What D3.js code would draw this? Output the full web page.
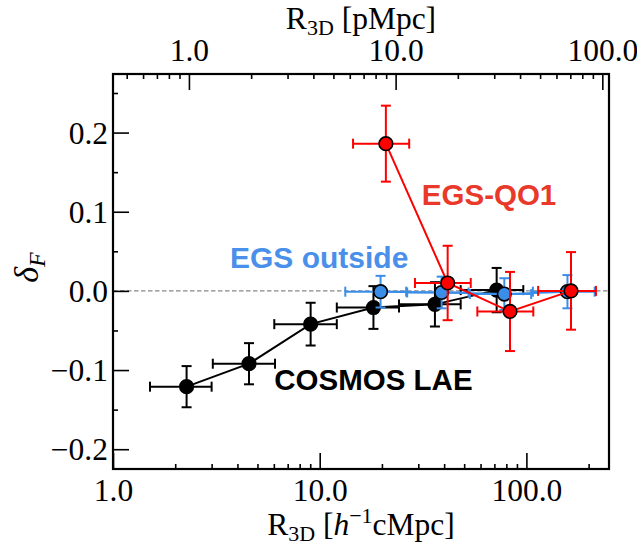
<!DOCTYPE html>
<html>
<head>
<meta charset="utf-8">
<script src="https://cdn.jsdelivr.net/npm/d3@7"></script>
<style>
  body { margin: 0; background: #fff; }
  svg { display: block; }
</style>
</head>
<body>
<svg id="chart" width="637" height="549"></svg>
<script>
// COSMOS LAE
var cosmosR     = [2.27, 4.55, 9.04, 18.2, 36.1, 71.8];
var cosmosRLo   = [1.51, 3.04, 6.03, 12.1, 24.2, 48.1];
var cosmosRHi   = [3.0, 6.08, 12.1, 24.2, 48.1, 96.6];
var cosmosDelta = [-0.121, -0.092, -0.042, -0.021, -0.017, 0.001];
var cosmosErr   = [0.026, 0.026, 0.027, 0.027, 0.028, 0.028];

// EGS outside
var outR     = [19.7, 38.9, 78.2, 158];
var outRLo   = [13.3, 26.5, 53.3, 107.5];
var outRHi   = [26.2, 52.5, 105.5, 214];
var outDelta = [-0.001, -0.002, -0.004, -0.001];
var outErr   = [0.02, 0.02, 0.02, 0.021];

// EGS-QO1
var qoR     = [20.9, 41.6, 83.3, 164.4];
var qoRLo   = [14.5, 28.9, 57.9, 114];
var qoRHi   = [27.1, 53.8, 108, 217];
var qoDelta = [0.186, 0.01, -0.026, 0.0];
var qoErr   = [0.048, 0.047, 0.05, 0.049];

// axes
var xMajor = [1, 10, 100];
var xMinor = [2, 3, 4, 5, 6, 7, 8, 9, 20, 30, 40, 50, 60, 70, 80, 90, 200];
var topMajor = [1, 10, 100];
var topMinor = [0.5, 0.6, 0.7, 0.8, 0.9, 2, 3, 4, 5, 6, 7, 8, 9, 20, 30, 40, 50, 60, 70, 80, 90];
var yMajor = [-0.2, -0.1, 0.0, 0.1, 0.2];
var yMinor = [-0.15, -0.05, 0.05, 0.15, 0.25];
var cMpcPerPMpc = 2.33;

var svg = d3.select("#chart");

var margins = { top: 74, bottom: 80, left: 113, right: 28 };
var width = 637 - margins.left - margins.right;
var height = 549 - margins.top - margins.bottom;

var x = d3.scaleLog().domain([1, 251]).range([0, width]);
var xTop = d3.scaleLog().domain([1 / cMpcPerPMpc, 251 / cMpcPerPMpc]).range([0, width]);
var y = d3.scaleLinear().domain([-0.225, 0.274]).range([height, 0]);

var serif = "'Liberation Serif', 'DejaVu Serif', serif";
var sans = "'Liberation Sans', Arial, sans-serif";
var fmt = d3.format(".1f");

var g = svg.append("g")
    .attr("transform", "translate(" + margins.left + "," + margins.top + ")");

// zero line
g.append("line")
    .attr("x1", 0).attr("x2", width)
    .attr("y1", y(0)).attr("y2", y(0))
    .attr("stroke", "#888")
    .attr("stroke-width", 1.2)
    .attr("stroke-dasharray", "4.5,2.5");

function series(R, RLo, RHi, D, E, color, fill, edge) {
    var pts = R.map(function(r, i) {
        return { r: r, lo: RLo[i], hi: RHi[i], d: D[i], e: E[i] };
    });
    var s = g.append("g");
    var cap = 5;

    // connecting line
    s.append("path")
        .datum(pts)
        .attr("fill", "none")
        .attr("stroke", color)
        .attr("stroke-width", 2)
        .attr("d", d3.line().x(d => x(d.r)).y(d => y(d.d)));

    var eb = s.selectAll(".eb").data(pts).enter().append("g")
        .attr("stroke", color)
        .attr("stroke-width", 2);
    // horizontal bars
    eb.append("line")
        .attr("x1", d => x(d.lo)).attr("x2", d => x(d.hi))
        .attr("y1", d => y(d.d)).attr("y2", d => y(d.d));
    eb.append("line")
        .attr("x1", d => x(d.lo)).attr("x2", d => x(d.lo))
        .attr("y1", d => y(d.d) - cap).attr("y2", d => y(d.d) + cap);
    eb.append("line")
        .attr("x1", d => x(d.hi)).attr("x2", d => x(d.hi))
        .attr("y1", d => y(d.d) - cap).attr("y2", d => y(d.d) + cap);
    // vertical bars
    eb.append("line")
        .attr("x1", d => x(d.r)).attr("x2", d => x(d.r))
        .attr("y1", d => y(d.d + d.e)).attr("y2", d => y(d.d - d.e));
    eb.append("line")
        .attr("x1", d => x(d.r) - cap).attr("x2", d => x(d.r) + cap)
        .attr("y1", d => y(d.d + d.e)).attr("y2", d => y(d.d + d.e));
    eb.append("line")
        .attr("x1", d => x(d.r) - cap).attr("x2", d => x(d.r) + cap)
        .attr("y1", d => y(d.d - d.e)).attr("y2", d => y(d.d - d.e));

    s.selectAll("circle").data(pts).enter().append("circle")
        .attr("cx", d => x(d.r))
        .attr("cy", d => y(d.d))
        .attr("r", 6.8)
        .attr("fill", fill)
        .attr("stroke", edge)
        .attr("stroke-width", 1.6);
}

series(cosmosR, cosmosRLo, cosmosRHi, cosmosDelta, cosmosErr, "#000", "#000", "#000");
series(outR, outRLo, outRHi, outDelta, outErr, "#3a8ee8", "#3a8ee8", "#000");
series(qoR, qoRLo, qoRHi, qoDelta, qoErr, "#ff0000", "#ff0000", "#000");

// annotations
g.append("text")
    .attr("x", x(31.2)).attr("y", y(0.1086))
    .attr("fill", "#e8392b")
    .style("font-family", sans).style("font-weight", "700").style("font-size", "29.5px")
    .text("EGS-QO1");
g.append("text")
    .attr("x", x(3.68)).attr("y", y(0.029))
    .attr("fill", "#4a90ea")
    .style("font-family", sans).style("font-weight", "700").style("font-size", "30px")
    .text("EGS outside");
g.append("text")
    .attr("x", x(6.03)).attr("y", y(-0.125))
    .attr("fill", "#000")
    .style("font-family", sans).style("font-weight", "700").style("font-size", "29.5px")
    .text("COSMOS LAE");

// axes (ticks pointing in)
function styleAxis(sel) {
    sel.select(".domain").remove();
    sel.selectAll("line").attr("stroke", "#000").attr("stroke-width", 1.6);
    sel.selectAll("text")
        .attr("fill", "#000")
        .style("font-family", serif)
        .style("font-size", "31.5px");
}

g.append("g")
    .attr("transform", "translate(0," + height + ")")
    .call(d3.axisBottom(x).tickValues(xMajor).tickSize(-16).tickPadding(0).tickFormat(fmt))
    .call(styleAxis)
    .selectAll("text").attr("dy", null).attr("y", 32);
g.append("g")
    .attr("transform", "translate(0," + height + ")")
    .call(d3.axisBottom(x).tickValues(xMinor).tickSize(-5).tickFormat(""))
    .call(styleAxis);

g.append("g")
    .call(d3.axisTop(xTop).tickValues(topMajor).tickSize(-16).tickPadding(0).tickFormat(fmt))
    .call(styleAxis)
    .selectAll("text").attr("dy", null).attr("y", -13);
g.append("g")
    .call(d3.axisTop(xTop).tickValues(topMinor).tickSize(-5).tickFormat(""))
    .call(styleAxis);

g.append("g")
    .call(d3.axisLeft(y).tickValues(yMajor).tickSize(-16).tickPadding(5).tickFormat(fmt))
    .call(styleAxis)
    .selectAll("text").attr("dy", "0.34em");
g.append("g")
    .call(d3.axisLeft(y).tickValues(yMinor).tickSize(-5).tickFormat(""))
    .call(styleAxis);

// frame
g.append("rect")
    .attr("width", width).attr("height", height)
    .attr("fill", "none")
    .attr("stroke", "#000")
    .attr("stroke-width", 2.2);

// axis labels
var topLabel = svg.append("text")
    .attr("x", margins.left + width / 2).attr("y", 29)
    .attr("text-anchor", "middle")
    .style("font-family", serif).style("font-size", "31.5px");
topLabel.append("tspan").text("R");
topLabel.append("tspan").attr("dy", 6).style("font-size", "22px").text("3D");
topLabel.append("tspan").attr("dy", -6).text(" [pMpc]");

var botLabel = svg.append("text")
    .attr("x", margins.left + width / 2).attr("y", 535)
    .attr("text-anchor", "middle")
    .style("font-family", serif).style("font-size", "31.5px");
botLabel.append("tspan").text("R");
botLabel.append("tspan").attr("dy", 6).style("font-size", "22px").text("3D");
botLabel.append("tspan").attr("dy", -6).text(" [");
botLabel.append("tspan").style("font-style", "italic").text("h");
botLabel.append("tspan").attr("dy", -12).style("font-size", "22px").text("\u22121");
botLabel.append("tspan").attr("dy", 12).text("cMpc]");

var yLabel = svg.append("text")
    .attr("transform", "translate(38," + (margins.top + height / 2 - 4) + ") rotate(-90)")
    .attr("text-anchor", "middle")
    .style("font-family", serif).style("font-size", "34px").style("font-style", "italic");
yLabel.append("tspan").text("\u03b4");
yLabel.append("tspan").attr("dy", 7).style("font-size", "24px").text("F");
</script>
</body>
</html>
